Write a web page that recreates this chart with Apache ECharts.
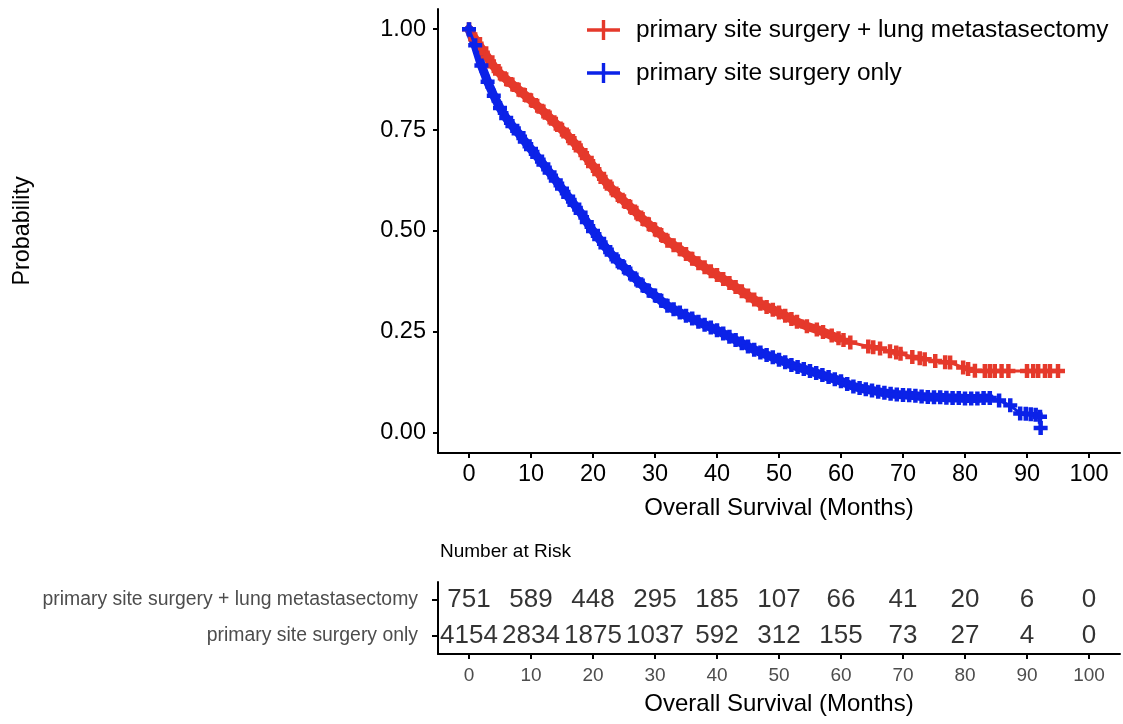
<!DOCTYPE html>
<html>
<head>
<meta charset="utf-8">
<script src="https://cdn.jsdelivr.net/npm/echarts@6/dist/echarts.min.js"></script>
<style>
html,body{margin:0;padding:0;background:#fff;}
#chart{width:1123px;height:724px;}
</style>
</head>
<body>
<div id="chart"></div>
<script>
// ---- data ----
const groupNames = ['primary site surgery + lung metastasectomy', 'primary site surgery only'];
const xTicks = [0, 10, 20, 30, 40, 50, 60, 70, 80, 90, 100];
const yTicks = [0, 0.25, 0.5, 0.75, 1];

const redTimes = [0,1,2,3,4,5,6,7,8,9,10,11,12,13,14,15,16,17,18,19,20,21,22,23,24,25,26,27,28,29,30,31,32,33,34,35,36,37,38,39,40,41,42,43,44,45,46,47,48,49,50,51,52,
  52.9,54.5,56.1,57.1,58.5,59.6,60.4,61.5,64.4,65.2,66.3,67.9,68.9,69.6,71.5,72.7,73.5,75.2,76.8,77.6,79.7,80.5,81.6,83.2,84.0,84.8,85.9,87.0,90.0,91.0,91.8,92.9,93.7,95];
const redSurv = [1.000,0.975,0.952,0.930,0.908,0.890,0.876,0.863,0.850,0.837,0.824,0.810,0.796,0.781,0.766,0.751,0.735,0.718,0.700,0.681,0.661,0.641,0.622,0.605,0.589,0.574,0.560,0.545,0.530,0.517,0.504,0.490,0.476,0.465,0.455,0.443,0.431,0.420,0.410,0.400,0.391,0.381,0.371,0.361,0.351,0.340,0.330,0.320,0.312,0.305,0.298,0.290,0.282,
  0.275,0.264,0.256,0.250,0.241,0.234,0.230,0.224,0.214,0.212,0.209,0.202,0.199,0.196,0.188,0.185,0.182,0.178,0.175,0.174,0.162,0.158,0.154,0.153,0.153,0.153,0.153,0.153,0.153,0.153,0.153,0.153,0.153,0.153];

const blueTimes = [0,1,2,3,4,5,6,7,8,9,10,11,12,13,14,15,16,17,18,19,20,21,22,23,24,25,26,27,28,29,30,31,32,33,34,35,36,37,38,39,40,41,42,43,44,45,46,47,48,49,50,51,52,53,54,55,56,57,58,59,60,61,62,63,64,65,66,67,68,69,70,71,72,73,74,75,76,77,78,79,80,81,82,83,84,
  85.5,87.3,88.9,89.8,90.6,91.4,92.1,92.2];
const blueSurv = [1.000,0.960,0.910,0.870,0.835,0.805,0.780,0.760,0.742,0.722,0.703,0.684,0.665,0.645,0.625,0.605,0.585,0.565,0.545,0.522,0.500,0.480,0.460,0.442,0.425,0.410,0.395,0.380,0.365,0.352,0.340,0.327,0.315,0.306,0.298,0.290,0.283,0.275,0.268,0.261,0.254,0.246,0.238,0.230,0.222,0.214,0.206,0.199,0.193,0.187,0.181,0.175,0.168,0.163,0.158,0.153,0.148,0.143,0.138,0.133,0.128,0.121,0.115,0.111,0.108,0.105,0.102,0.099,0.097,0.095,0.094,0.093,0.092,0.090,0.089,0.088,0.088,0.087,0.086,0.086,0.085,0.085,0.085,0.086,0.086,
  0.080,0.068,0.048,0.047,0.046,0.045,0.040,0.012];

// end of the densely censored stretch of each curve (month)
const redDenseEnd = 60;
const blueDenseEnd = 84;

const riskTimes = [0, 10, 20, 30, 40, 50, 60, 70, 80, 90, 100];
const riskRed = [751, 589, 448, 295, 185, 107, 66, 41, 20, 6, 0];
const riskBlue = [4154, 2834, 1875, 1037, 592, 312, 155, 73, 27, 4, 0];

// ---- styling ----
const RED = '#E5392B';
const BLUE = '#0B22E8';
const FONT = '"Liberation Sans", Arial, Helvetica, sans-serif';
const plusPath = 'path://M0,3.4L3.4,3.4L3.4,0L6.6,0L6.6,3.4L10,3.4L10,6.6L6.6,6.6L6.6,10L3.4,10L3.4,6.6L0,6.6Z';
const legendIcon = 'path://M0,8.3L14.8,8.3L14.8,0L18.2,0L18.2,8.3L33,8.3L33,11.7L18.2,11.7L18.2,20L14.8,20L14.8,11.7L0,11.7Z';

const toPts = (ts, vs) => ts.map((t, i) => [t, vs[i]]);
const densePts = (ts, vs, end) => toPts(ts, vs).filter(p => p[0] <= end);
const riskPts = (arr, row) => riskTimes.map((t, i) => [t, row, arr[i]]);

const chart = echarts.init(document.getElementById('chart'), null, {renderer: 'canvas'});
const axisLine = {show: true, onZero: false, lineStyle: {color: '#000', width: 2}};
const axisTick = {show: true, length: 5, lineStyle: {color: '#000', width: 2}};

chart.setOption({
  animation: false,
  backgroundColor: '#fff',
  textStyle: {fontFamily: FONT},
  title: {
    text: 'Number at Risk', left: 440, top: 542, padding: 0,
    textStyle: {fontFamily: FONT, fontSize: 19, fontWeight: 'normal', color: '#000'}
  },
  legend: {
    orient: 'vertical', left: 587, top: 18, itemGap: 19, padding: 0,
    itemWidth: 33, itemHeight: 20,
    textStyle: {fontFamily: FONT, fontSize: 24.4, lineHeight: 22, color: '#000', padding: [0, 0, 0, 11]},
    data: [
      {name: groupNames[0], icon: legendIcon, itemStyle: {color: RED}},
      {name: groupNames[1], icon: legendIcon, itemStyle: {color: BLUE}}
    ]
  },
  grid: [
    {left: 438, right: 3, top: 9, height: 444, containLabel: false},
    {left: 438, right: 3, top: 582, height: 72, containLabel: false}
  ],
  xAxis: [
    {
      gridIndex: 0, type: 'value', min: -5, max: 105,
      axisLine: axisLine, axisTick: Object.assign({customValues: xTicks}, axisTick),
      axisLabel: {customValues: xTicks, fontSize: 23.5, color: '#000', margin: 10, fontFamily: FONT},
      splitLine: {show: false},
      name: 'Overall Survival (Months)', nameLocation: 'middle', nameGap: 43,
      nameTextStyle: {fontSize: 24, color: '#000', fontFamily: FONT}
    },
    {
      gridIndex: 1, type: 'value', min: -5, max: 105,
      axisLine: axisLine, axisTick: Object.assign({customValues: xTicks}, axisTick),
      axisLabel: {customValues: xTicks, fontSize: 19, color: '#4D4D4D', margin: 12, fontFamily: FONT},
      splitLine: {show: false},
      name: 'Overall Survival (Months)', nameLocation: 'middle', nameGap: 38,
      nameTextStyle: {fontSize: 24, color: '#000', fontFamily: FONT}
    }
  ],
  yAxis: [
    {
      gridIndex: 0, type: 'value', min: -0.05, max: 1.05,
      axisLine: axisLine, axisTick: Object.assign({customValues: yTicks}, axisTick),
      axisLabel: {customValues: yTicks, fontSize: 23.5, color: '#000', margin: 12, fontFamily: FONT,
        formatter: v => v.toFixed(2)},
      splitLine: {show: false},
      name: 'Probability', nameLocation: 'middle', nameGap: 404, nameRotate: 90,
      nameTextStyle: {fontSize: 23.4, color: '#000', fontFamily: FONT}
    },
    {
      gridIndex: 1, type: 'category', inverse: true,
      data: groupNames,
      axisLine: axisLine,
      axisTick: {show: true, alignWithLabel: true, length: 6, lineStyle: {color: '#000', width: 2}},
      axisLabel: {fontSize: 19.4, color: '#4D4D4D', margin: 20, fontFamily: FONT},
      splitLine: {show: false}
    }
  ],
  series: [
    {
      name: groupNames[0], type: 'line', xAxisIndex: 0, yAxisIndex: 0,
      data: densePts(redTimes, redSurv, redDenseEnd),
      lineStyle: {color: RED, width: 9, join: 'round', cap: 'round'},
      showSymbol: false, symbol: 'none', silent: true, z: 1
    },
    {
      name: groupNames[1], type: 'line', xAxisIndex: 0, yAxisIndex: 0,
      data: densePts(blueTimes, blueSurv, blueDenseEnd),
      lineStyle: {color: BLUE, width: 9, join: 'round', cap: 'round'},
      showSymbol: false, symbol: 'none', silent: true, z: 2
    },
    {
      name: groupNames[0], type: 'line', xAxisIndex: 0, yAxisIndex: 0,
      data: toPts(redTimes, redSurv),
      lineStyle: {color: RED, width: 3},
      showSymbol: true, symbol: plusPath, symbolSize: 14,
      itemStyle: {color: RED},
      z: 3
    },
    {
      name: groupNames[1], type: 'line', xAxisIndex: 0, yAxisIndex: 0,
      data: toPts(blueTimes, blueSurv),
      lineStyle: {color: BLUE, width: 3},
      showSymbol: true, symbol: plusPath, symbolSize: 14,
      itemStyle: {color: BLUE},
      z: 4
    },
    {
      type: 'scatter', xAxisIndex: 1, yAxisIndex: 1,
      symbolSize: 0, silent: true,
      data: riskPts(riskRed, 0).concat(riskPts(riskBlue, 1)),
      label: {show: true, position: 'inside', formatter: p => String(p.value[2]),
        fontSize: 26, color: '#000', fontFamily: FONT}
    }
  ]
});
</script>
</body>
</html>
